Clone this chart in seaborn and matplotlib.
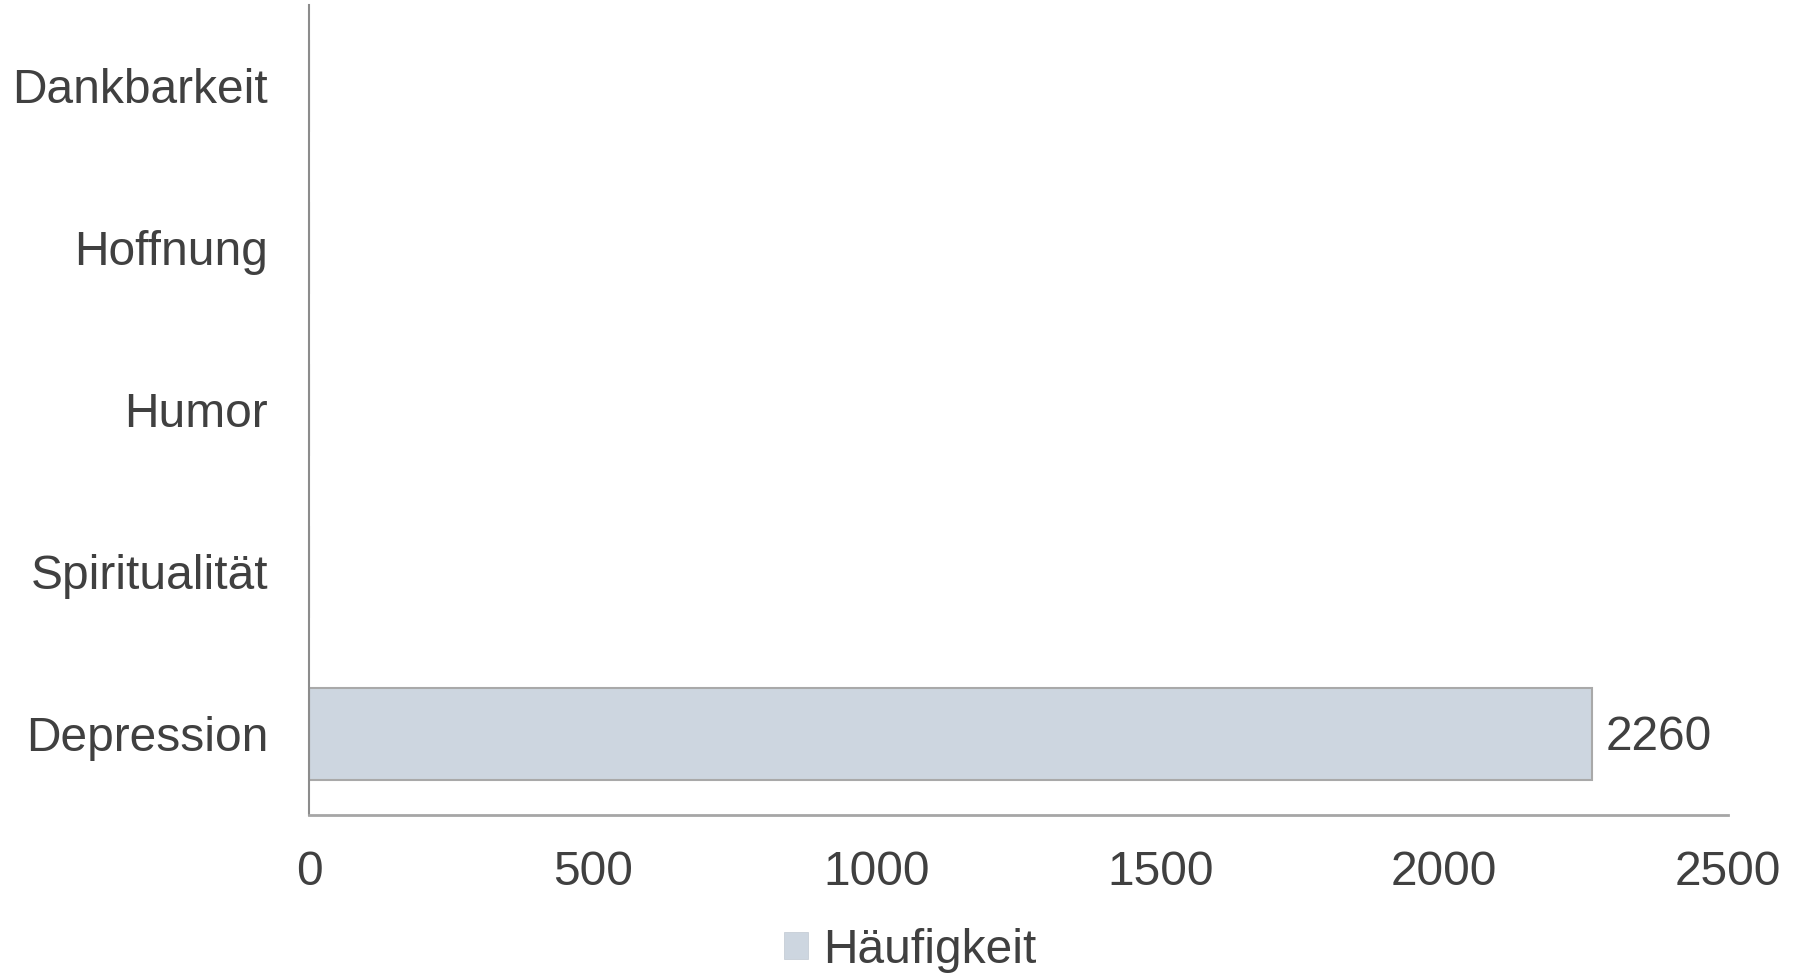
import matplotlib
matplotlib.use("Agg")
import matplotlib.pyplot as plt
import seaborn as sns
import pandas as pd
from matplotlib.patches import Patch

categories = ["Dankbarkeit", "Hoffnung", "Humor", "Spiritualität", "Depression"]
values = [0, 0, 0, 0, 2260]
series_name = "Häufigkeit"
x_ticks = [0, 500, 1000, 1500, 2000, 2500]

sns.set_theme(style="white")
plt.rcParams["font.family"] = ["Liberation Sans", "DejaVu Sans"]

text_color = "#404040"
bar_color = "#cdd6e0"
edge_color = "#a9a9a9"
fs = 34.5

df = pd.DataFrame({"Kategorie": categories, series_name: values})

fig = plt.figure(figsize=(17.99, 9.73), dpi=100)
ax = fig.add_axes([0.1718, 0.1624, 0.9605 - 0.1718, 0.9949 - 0.1624])

sns.barplot(data=df, y="Kategorie", x=series_name, order=categories,
            color=bar_color, edgecolor=edge_color, linewidth=1.5,
            width=0.57, saturation=1, ax=ax)

for i, v in enumerate(values):
    if v > 0:
        ax.text(v + 25, i + 0.02, f"{v}", va="center", ha="left",
                fontsize=fs, color=text_color)

ax.set_xlim(0, 2500)
ax.set_ylim(len(categories) - 0.5, -0.5)
ax.set_xticks(x_ticks)
ax.set_xticklabels([str(t) for t in x_ticks])
ax.set_xlabel("")
ax.set_ylabel("")
ax.tick_params(axis="x", length=0, pad=25.5, labelsize=fs, labelcolor=text_color)
ax.tick_params(axis="y", length=0, pad=29.5, labelsize=fs, labelcolor=text_color)

for side in ["top", "right"]:
    ax.spines[side].set_visible(False)
ax.spines["left"].set_color("#8c8c8c")
ax.spines["left"].set_linewidth(1.5)
ax.spines["bottom"].set_color("#a6a6a6")
ax.spines["bottom"].set_linewidth(2)

handle = Patch(facecolor=bar_color, edgecolor="#c0c8d2", linewidth=0.5)
fig.legend([handle], [series_name], loc="center", bbox_to_anchor=(0.506, 0.0235),
           frameon=False, fontsize=fs, labelcolor=text_color,
           handlelength=0.5, handleheight=0.5, handletextpad=0.3)

fig.savefig("out.png", dpi=100, facecolor="white")
